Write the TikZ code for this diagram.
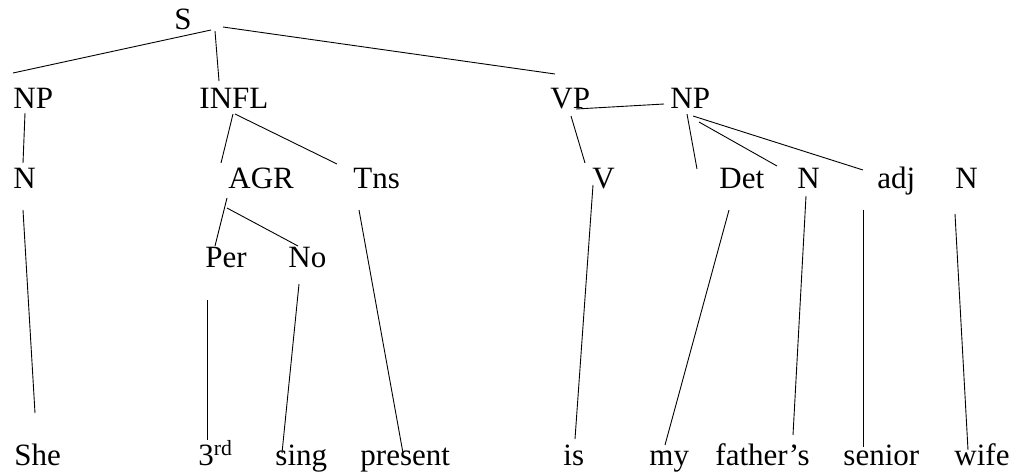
\documentclass[tikz,border=0pt]{standalone}
\usepackage{fontspec}
\setmainfont{Liberation Serif}
\usepackage{tikz}

\begin{document}
\begin{tikzpicture}[x=1pt,y=-1pt,line width=0.9pt,
    lbl/.style={anchor=base west,inner sep=0pt,font=\fontsize{31}{37}\selectfont}]
                \useasboundingbox (0,0) rectangle (1014,472);
                \node[lbl] (s) at (174,29) {S};
                \node[lbl] (np) at (13,108) {NP};
                \node[lbl] (infl) at (199,108) {INFL};
                \node[lbl] (vp) at (550,108) {VP};
                \node[lbl] (npo) at (670,108) {NP};
                \node[lbl] (ns) at (13,188) {N};
                \node[lbl] (agr) at (228,188) {AGR};
                \node[lbl] (tns) at (353,188) {Tns};
                \node[lbl] (v) at (592,188) {V};
                \node[lbl] (det) at (719,188) {Det};
                \node[lbl] (nf) at (797,188) {N};
                \node[lbl] (adj) at (877,188) {adj};
                \node[lbl] (nw) at (955,188) {N};
                \node[lbl] (per) at (205,267) {Per};
                \node[lbl] (no) at (288,267) {No};
                \node[lbl] (she) at (14,465) {She};
                \node[lbl] (third) at (198,465) {3\textsuperscript{rd}};
                \node[lbl] (sing) at (275,465) {sing};
                \node[lbl] (present) at (360,465) {present};
                \node[lbl] (is) at (563,465) {is};
                \node[lbl] (my) at (649,465) {my};
                \node[lbl] (fathers) at (715,465) {father’s};
                \node[lbl] (senior) at (843,465) {senior};
                \node[lbl] (wife) at (954,465) {wife};
                \coordinate (s-np) at (211,30);    \coordinate (np-s) at (13,73);
                \coordinate (s-infl) at (215,31);  \coordinate (infl-s) at (219,81);
                \coordinate (s-vp) at (223,27);    \coordinate (vp-s) at (555,74);
                \coordinate (np-ns) at (25,113);   \coordinate (ns-np) at (23,163);
                \coordinate (infl-agr) at (233,114); \coordinate (agr-infl) at (221,163);
                \coordinate (infl-tns) at (235,114); \coordinate (tns-infl) at (337,164);
                \coordinate (ns-she) at (23,210);  \coordinate (she-ns) at (35,413);
                \coordinate (agr-per) at (227,198); \coordinate (per-agr) at (215,246);
                \coordinate (agr-no) at (227,208); \coordinate (no-agr) at (298,246);
                \coordinate (tns-pr) at (359,210); \coordinate (pr-tns) at (403,453);
                \coordinate (per-rd) at (207,300); \coordinate (rd-per) at (207,440);
                \coordinate (no-sing) at (299,284); \coordinate (sing-no) at (282,453);
                \coordinate (vp-npo) at (576,109); \coordinate (npo-vp) at (664,104);
                \coordinate (vp-v) at (571,116);   \coordinate (v-vp) at (585,163);
                \coordinate (npo-det) at (687,114); \coordinate (det-npo) at (697,169);
                \coordinate (npo-nf) at (699,122); \coordinate (nf-npo) at (777,166);
                \coordinate (npo-adj) at (693,116); \coordinate (adj-npo) at (863,170);
                \coordinate (v-is) at (593,185);   \coordinate (is-v) at (575,439);
                \coordinate (det-my) at (729,210); \coordinate (my-det) at (665,445);
                \coordinate (nf-fa) at (806,196);  \coordinate (fa-nf) at (793,435);
                \coordinate (adj-se) at (863,210); \coordinate (se-adj) at (863,447);
                \coordinate (nw-wi) at (955,214);  \coordinate (wi-nw) at (968,450);
                \draw (s-np) -- (np-s);
                \draw (s-infl) -- (infl-s);
                \draw (s-vp) -- (vp-s);
                \draw (np-ns) -- (ns-np);
                \draw (infl-agr) -- (agr-infl);
                \draw (infl-tns) -- (tns-infl);
                \draw (ns-she) -- (she-ns);
                \draw (agr-per) -- (per-agr);
                \draw (agr-no) -- (no-agr);
                \draw (tns-pr) -- (pr-tns);
                \draw (per-rd) -- (rd-per);
                \draw (no-sing) -- (sing-no);
                \draw (vp-npo) -- (npo-vp);
                \draw (vp-v) -- (v-vp);
                \draw (npo-det) -- (det-npo);
                \draw (npo-nf) -- (nf-npo);
                \draw (npo-adj) -- (adj-npo);
                \draw (v-is) -- (is-v);
                \draw (det-my) -- (my-det);
                \draw (nf-fa) -- (fa-nf);
                \draw (adj-se) -- (se-adj);
                \draw (nw-wi) -- (wi-nw);
            \end{tikzpicture}
\end{document}
